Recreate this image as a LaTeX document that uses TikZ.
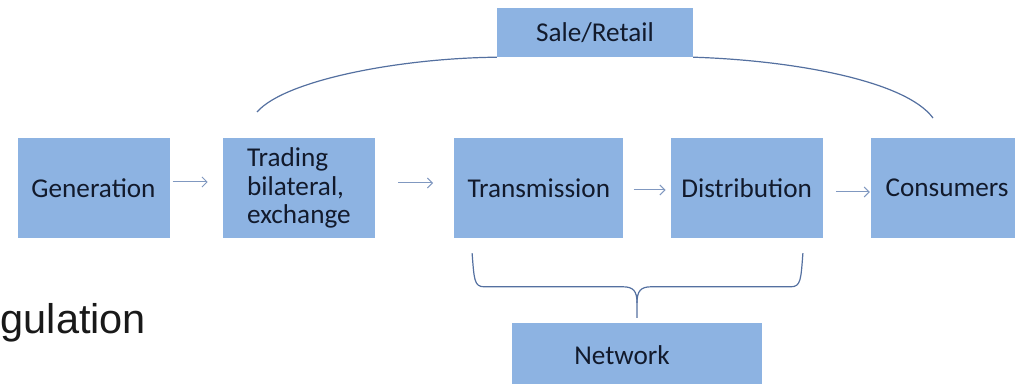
\documentclass[tikz,border=0pt]{standalone}
\usepackage{fontspec}
\setmainfont{Carlito}
\newfontfamily\arialfont{Liberation Sans}
\usepackage{tikz}
\usetikzlibrary{positioning, calc, arrows.meta}
\definecolor{boxblue}{RGB}{141,179,226}
\definecolor{textnavy}{RGB}{18,26,44}
\definecolor{linenavy}{RGB}{84,112,160}
\definecolor{arrowgray}{RGB}{128,152,192}
\tikzset{
    boxtext/.style={text=textnavy, font=\fontsize{27.2pt}{28.5pt}\selectfont},
    box/.style={boxtext, fill=boxblue, minimum width=152pt, minimum height=100pt, inner sep=0pt},
    flow/.style={-{Straight Barb[length=5pt, width=10pt]}, draw=arrowgray, line width=1pt},
    curly/.style={draw=linenavy, line width=1.2pt}
}

\begin{document}
\begin{tikzpicture}[x=1pt, y=1pt]
    \useasboundingbox (0,0) rectangle (1015,383);

    \node[box]                       (gen)   at (93.5,195)         {Generation};
    \node[box, align=left]           (trad)  [right=53pt of gen]    {Trading\\bilateral,\\exchange};
    \node[box, minimum width=169pt]  (trans) [right=79pt of trad]   {Transmission};
    \node[box]                       (dist)  [right=47pt of trans]  {Distribution};
    \node[box]                       (cons)  [right=48pt of dist]   {Consumers};
    \node[box, minimum width=196pt, minimum height=49pt]  (ret) at (595,350.5)  {Sale/Retail};
    \node[box, minimum width=250pt, minimum height=64pt,
          label={[boxtext, xshift=-15pt]center:Network}]  (net) at (637,28)     {};
    \node[anchor=base west, inner sep=0pt, text=black!90,
          font=\arialfont\fontsize{41.5pt}{48pt}\selectfont]  (reg) at (0.5,49)  {gulation};

    \draw[flow, shorten <=3pt, shorten >=15pt]  ([yshift=6pt]gen.east)   -- ([yshift=6pt]trad.west);
    \draw[flow, shorten <=23pt, shorten >=21pt] ([yshift=5pt]trad.east)  -- ([yshift=5pt]trans.west);
    \draw[flow, shorten <=10pt, shorten >=5pt]  ([yshift=-2pt]trans.east) -- ([yshift=-2pt]dist.west);
    \draw[flow, shorten <=13pt, shorten >=1pt]  ([yshift=-4pt]dist.east)  -- ([yshift=-4pt]cons.west);

    \coordinate (al) at (257,271);
    \coordinate (ar) at (933,265);
    \draw[curly] (ret.south west) .. controls +(-97,-1) and +(28,32) .. (al);
    \draw[curly] (ret.south east) .. controls +(97,-3) and +(-28,38) .. (ar);

    \coordinate (bl)  at ([xshift=18pt, yshift=-15pt]trans.south west);
    \coordinate (br)  at ([xshift=-20pt, yshift=-15pt]dist.south east);
    \coordinate (tip) at ([yshift=5pt]net.north);
    \draw[curly] (bl) .. controls +(2,-26) and +(-10,0) .. ($(bl |- tip)+(12,31)$)
                 -- ($(tip)+(-14,31)$) .. controls +(10,0) and +(0,12) .. ($(tip)+(0,15)$) -- (tip);
    \draw[curly] (br) .. controls +(-2,-26) and +(10,0) .. ($(br |- tip)+(-12,31)$)
                 -- ($(tip)+(14,31)$) .. controls +(-10,0) and +(0,12) .. ($(tip)+(0,15)$);
\end{tikzpicture}
\end{document}
